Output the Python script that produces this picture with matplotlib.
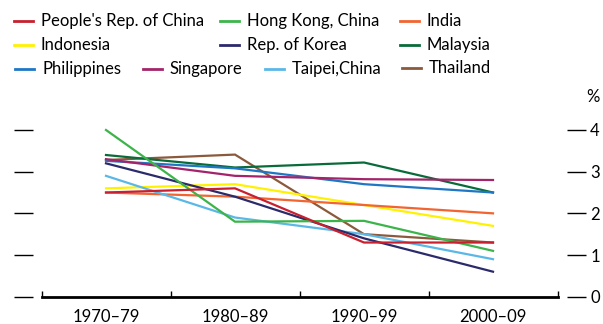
import matplotlib.pyplot as plt
from matplotlib.lines import Line2D

plt.rcParams["font.family"] = ["Lato", "DejaVu Sans"]

decades = ["1970\u201379", "1980\u201389", "1990\u201399", "2000\u201309"]

economies = ["People's Rep. of China", "Hong Kong, China", "India",
             "Indonesia", "Rep. of Korea", "Malaysia",
             "Philippines", "Singapore", "Taipei,China", "Thailand"]

china = [2.5, 2.6, 1.3, 1.3]
hong_kong = [4.0, 1.8, 1.82, 1.1]
india = [2.5, 2.4, 2.2, 2.0]
indonesia = [2.6, 2.7, 2.2, 1.7]
korea = [3.2, 2.4, 1.4, 0.6]
malaysia = [3.4, 3.1, 3.22, 2.5]
philippines = [3.26, 3.08, 2.7, 2.5]
singapore = [3.3, 2.9, 2.82, 2.8]
taipei = [2.9, 1.9, 1.5, 0.9]
thailand = [3.28, 3.41, 1.5, 1.3]

series = [china, hong_kong, india, indonesia, korea, malaysia,
          philippines, singapore, taipei, thailand]
colors = ["#c8202f", "#3cb44a", "#f26430", "#fff200", "#2b2a6b",
          "#0a6b3a", "#1f77c4", "#a3246a", "#5bb8e6", "#8b5a3c"]

W, H = 603, 324
fig = plt.figure(figsize=(W / 100, H / 100), dpi=100)
fig.patch.set_facecolor("white")

y0, y4 = 296.7, 130.0
ax = fig.add_axes([14 / W, (H - y0) / H, (586 - 14) / W, (y0 - y4) / H])
ax.set_xlim((14 - 106) / 129, (586 - 106) / 129)
ax.set_ylim(0, 4)

draw_order = [9, 5, 6, 7, 3, 2, 8, 4, 1, 0]
for i in draw_order:
    ax.plot(range(len(decades)), series[i], color=colors[i], linewidth=1.6,
            clip_on=False, solid_joinstyle="miter")

for side in ["top", "left", "right"]:
    ax.spines[side].set_visible(False)
ax.spines["bottom"].set_bounds(-0.5, 3.5)
ax.spines["bottom"].set_linewidth(2)

ax.set_xticks(range(len(decades)))
ax.set_xticklabels(decades, fontsize=12)
ax.set_xticks([-0.5, 0.5, 1.5, 2.5, 3.5], minor=True)
ax.tick_params(axis="x", which="major", length=0, pad=9)
ax.tick_params(axis="x", which="minor", direction="in", length=4, width=1)

ax.set_yticks([0, 1, 2, 3, 4])
ax.tick_params(axis="y", which="major", direction="in", length=14, width=1,
               left=True, right=True, labelleft=False, labelright=True,
               labelsize=12, pad=3)
ax.text(1.0, 1.2, "%", transform=ax.transAxes, fontsize=12, ha="left", va="center")

# legend entries placed by hand (pixel positions)
legend_pos = [(14, 21), (220, 21), (400, 21),
              (14, 45), (220, 45), (400, 45),
              (15, 69), (143, 69), (265, 69), (402, 68)]
for (px, py), name, c in zip(legend_pos, economies, colors):
    fig.add_artist(Line2D([px / W, (px + 19) / W], [1 - py / H, 1 - py / H],
                          color=c, linewidth=2, transform=fig.transFigure))
    fig.text((px + 27) / W, 1 - py / H, name, fontsize=12, va="center", ha="left")

fig.savefig("out.png", dpi=100, facecolor="white")
